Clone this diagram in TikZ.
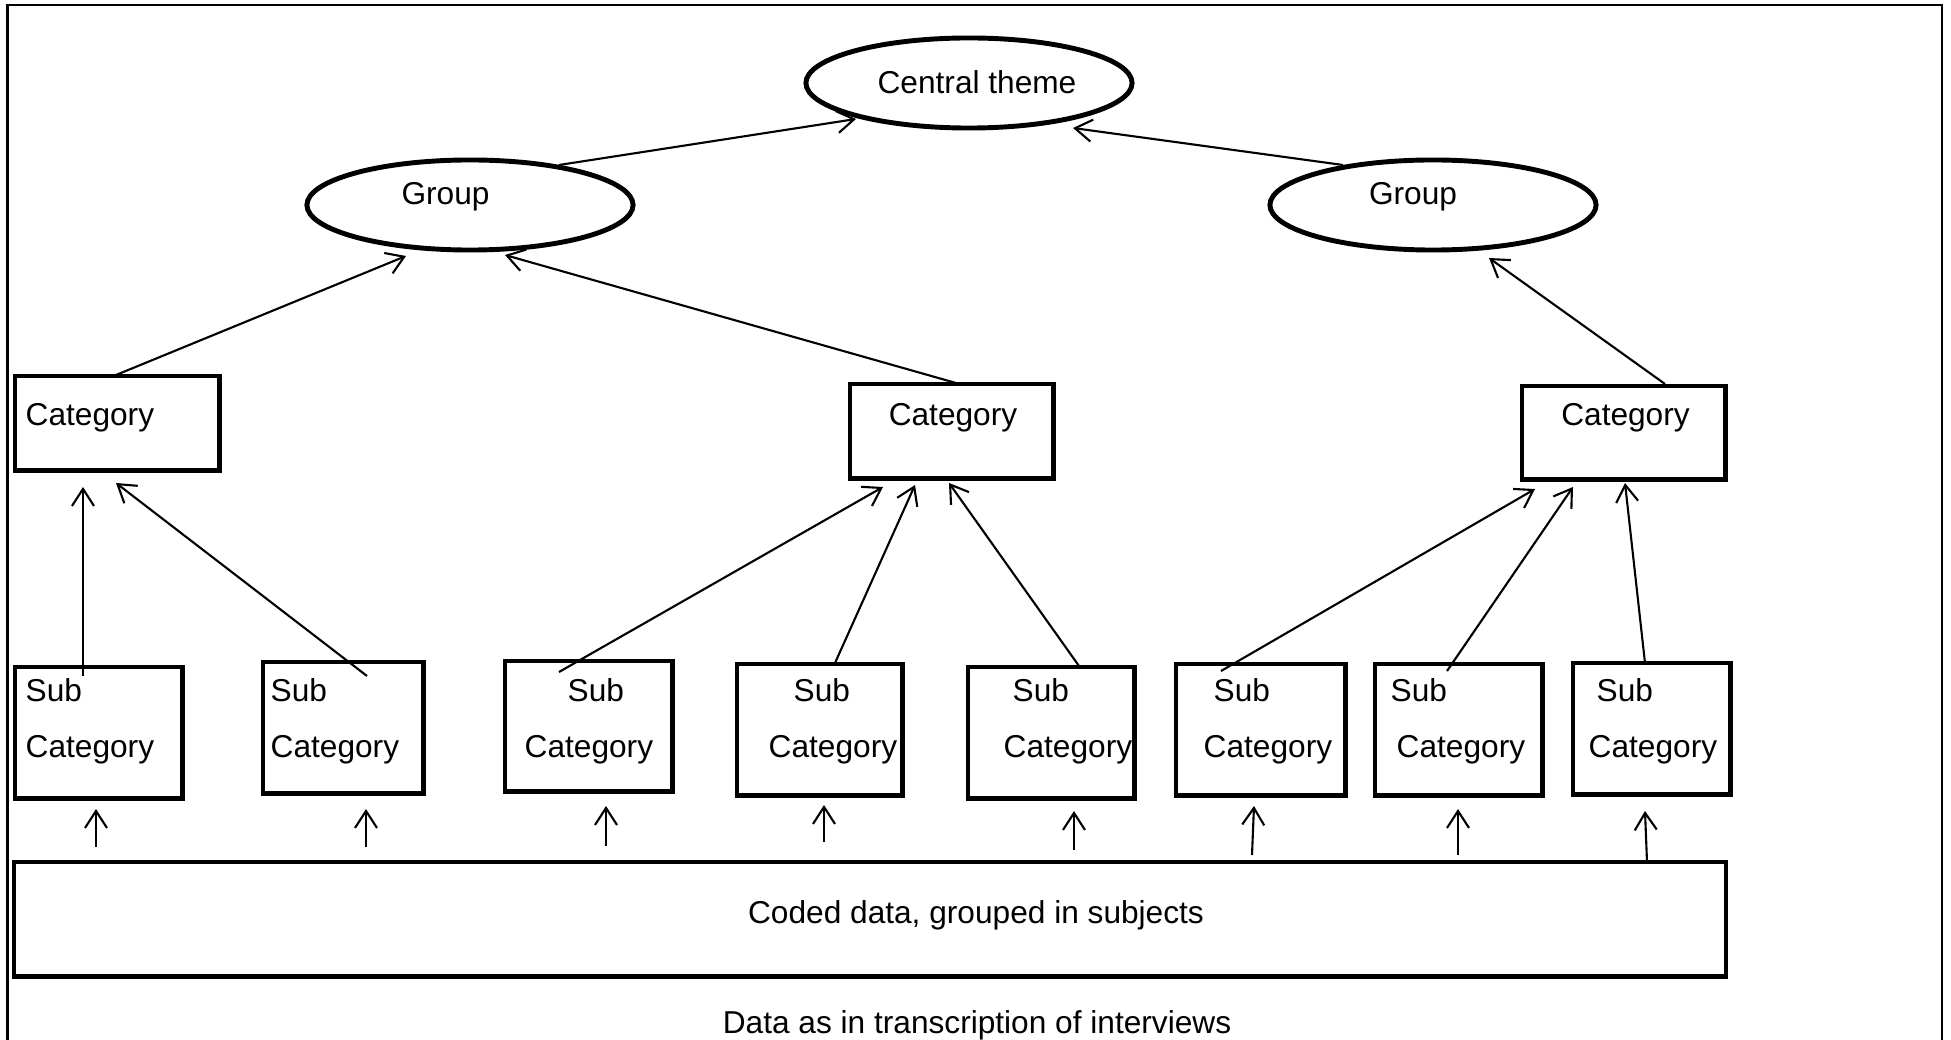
\documentclass[tikz,border=0pt]{standalone}
\usepackage{fontspec}
\setmainfont{Liberation Sans}
\usetikzlibrary{arrows.meta,shapes.geometric}
\begin{document}
\begin{tikzpicture}[x=0.01cm,y=-0.01cm,
  box/.style={draw,line width=1.4pt,rectangle,inner sep=0pt,outer sep=0pt,anchor=north west},
  ell/.style={draw,line width=1.4pt,ellipse,inner sep=0pt,outer sep=0pt},
  lbl/.style={inner sep=0pt,font=\fontsize{9pt}{11pt}\selectfont},
  con/.style={line width=0.6pt,-{Straight Barb[length=1.7mm,width=2.2mm,line width=0.6pt]}}]
\useasboundingbox (0,0) rectangle (1951,1040);
\draw[line width=0.6pt] (7.5,5) rectangle (1942,1060);
% ellipses
\node[ell,minimum width=3.26cm,minimum height=0.9cm] (T) at (969,83) {};
\node[ell,minimum width=3.26cm,minimum height=0.9cm] (G1) at (470,205) {};
\node[ell,minimum width=3.26cm,minimum height=0.9cm] (G2) at (1433,205) {};
\node[lbl,anchor=base] (tT) at (977,93.5) {Central theme};
\node[lbl,anchor=base] (tG1) at (445.5,204.5) {Group};
\node[lbl,anchor=base] (tG2) at (1413,204.5) {Group};
% categories
\node[box,minimum width=2.04cm,minimum height=0.94cm] (C1) at (15,376) {};
\node[box,minimum width=2.03cm,minimum height=0.94cm] (C2) at (850,384) {};
\node[box,minimum width=2.03cm,minimum height=0.93cm] (C3) at (1522,386) {};
\node[lbl,anchor=base west] (tC1) at (25,426) {Category};
\node[lbl,anchor=base] (tC2) at (953,426) {Category};
\node[lbl,anchor=base] (tC3) at (1625.5,426) {Category};
% subcategories
\node[box,minimum width=1.67cm,minimum height=1.31cm] (S1) at (15,667) {};
\node[box,minimum width=1.60cm,minimum height=1.31cm] (S2) at (263,662) {};
\node[box,minimum width=1.67cm,minimum height=1.30cm] (S3) at (505,661) {};
\node[box,minimum width=1.65cm,minimum height=1.31cm] (S4) at (737,664) {};
\node[box,minimum width=1.66cm,minimum height=1.31cm] (S5) at (968,667) {};
\node[box,minimum width=1.69cm,minimum height=1.31cm] (S6) at (1176,664) {};
\node[box,minimum width=1.67cm,minimum height=1.31cm] (S7) at (1375,664) {};
\node[box,minimum width=1.57cm,minimum height=1.31cm] (S8) at (1573,663) {};
\foreach \n/\a/\b in {1/25/25,2/270/270,3/567/524,4/793/768,5/1012/1003,6/1213/1203,7/1390/1396,8/1596/1588}{
  \node[lbl,anchor=base west] (sub\n) at (\a,701) {Sub};
  \node[lbl,anchor=base west] (cat\n) at (\b,757) {Category};
}
% bottom
\node[box,minimum width=17.11cm,minimum height=1.14cm] (D) at (14,862) {};
\node[lbl,anchor=base] (tD) at (976,923.5) {Coded data, grouped in subjects};
\node[lbl,anchor=base] (tI) at (977,1033) {Data as in transcription of interviews};
% connector end points
\coordinate (g1a) at (559,165); \coordinate (ta) at (856,119);
\coordinate (g2a) at (1343,165); \coordinate (tb) at (1073,128);
\coordinate (c1a) at (116,375); \coordinate (g1b) at (406,256);
\coordinate (c2a) at (956,383); \coordinate (g1c) at (505,255);
\coordinate (c3a) at (1665,384); \coordinate (g2b) at (1489,258);
\coordinate (s1a) at (83,676); \coordinate (c1b) at (83,487);
\coordinate (s2a) at (367,676); \coordinate (c1c) at (116,483);
\coordinate (s3a) at (559,672); \coordinate (c2b) at (883,487);
\coordinate (s4a) at (835,663); \coordinate (c2c) at (915,485);
\coordinate (s5a) at (1079,666); \coordinate (c2d) at (949,483);
\coordinate (s6a) at (1221,671); \coordinate (c3b) at (1535,489);
\coordinate (s7a) at (1447,671); \coordinate (c3c) at (1573,487);
\coordinate (s8a) at (1645,663); \coordinate (c3d) at (1625,483);
\draw[con] (g1a) -- (ta);
\draw[con] (g2a) -- (tb);
\draw[con] (c1a) -- (g1b);
\draw[con] (c2a) -- (g1c);
\draw[con] (c3a) -- (g2b);
\draw[con] (s1a) -- (c1b);
\draw[con] (s2a) -- (c1c);
\draw[con] (s3a) -- (c2b);
\draw[con] (s4a) -- (c2c);
\draw[con] (s5a) -- (c2d);
\draw[con] (s6a) -- (c3b);
\draw[con] (s7a) -- (c3c);
\draw[con] (s8a) -- (c3d);
% small arrows from data box
\coordinate (d1) at (96,847);   \coordinate (e1) at (96,809);
\coordinate (d2) at (366,847);  \coordinate (e2) at (366,809);
\coordinate (d3) at (606,846);  \coordinate (e3) at (606,806);
\coordinate (d4) at (824,842);  \coordinate (e4) at (824,805);
\coordinate (d5) at (1074,850); \coordinate (e5) at (1074,811);
\coordinate (d6) at (1252,855); \coordinate (e6) at (1254,806);
\coordinate (d7) at (1458,855); \coordinate (e7) at (1458,809);
\coordinate (d8) at (1647,862); \coordinate (e8) at (1645,811);
\foreach \i in {1,...,8}{\draw[con] (d\i) -- (e\i);}
\end{tikzpicture}
\end{document}
